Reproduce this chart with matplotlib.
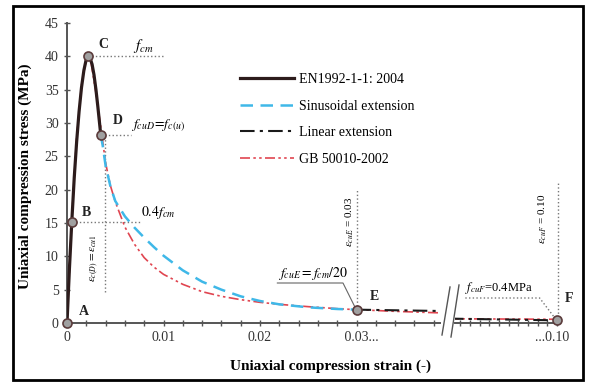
import numpy as np
import matplotlib
matplotlib.use('Agg')
import matplotlib.pyplot as plt
from matplotlib.lines import Line2D
from matplotlib.patches import Rectangle

plt.rcParams['font.family'] = ['Liberation Serif', 'DejaVu Serif']
plt.rcParams['mathtext.fontset'] = 'stix'

# EN1992-1-1: 2004 curve, A -> C -> D
en_strain = [0, 0.00025, 0.0005, 0.00075, 0.001, 0.00125, 0.0015, 0.00175, 0.002, 0.0022,
             0.0024, 0.0026, 0.0028, 0.003, 0.0032, 0.0035]
en_stress = [0, 8.1, 15.3, 21.8, 27.2, 31.7, 35.3, 37.9, 39.6, 40.0,
             39.7, 38.8, 37.2, 35.0, 32.4, 28.2]

# sinusoidal extension, D -> E
sin_strain = [0.0035, 0.0037, 0.004, 0.0045, 0.005, 0.006, 0.007, 0.008, 0.009, 0.010,
              0.012, 0.014, 0.016, 0.018, 0.020, 0.022, 0.025, 0.028, 0.030]
sin_stress = [28.2, 26.6, 23.6, 20.5, 18.3, 16.0, 14.3, 12.8, 11.4, 10.1,
              7.9, 6.2, 5.0, 4.0, 3.3, 2.8, 2.35, 2.1, 2.0]

# linear extension, E -> F
lin_strain = [0.030, 0.100]
lin_stress = [2.0, 0.4]

# GB 50010-2002
gb_strain = [0, 0.0005, 0.001, 0.0015, 0.002, 0.0022, 0.0025, 0.003, 0.0035, 0.004,
             0.0045, 0.005, 0.006, 0.007, 0.008, 0.009, 0.010, 0.012, 0.014, 0.016,
             0.018, 0.020, 0.022, 0.025, 0.028, 0.030, 0.034, 0.038, 0.042,
             0.088, 0.094, 0.100]
gb_stress = [0, 15.8, 27.8, 35.6, 39.6, 40.0, 39.0, 34.5, 29.4, 24.0,
             20.6, 18.2, 14.4, 11.8, 9.8, 8.4, 7.3, 5.8, 4.7, 4.0,
             3.5, 3.1, 2.8, 2.45, 2.15, 2.0, 1.75, 1.55, 1.4,
             0.64, 0.60, 0.56]

# key points
pt_names = ['A', 'B', 'C', 'D', 'E', 'F']
pt_strain = [0, 0.0005, 0.0022, 0.0035, 0.030, 0.100]
pt_stress = [0, 15.2, 40.0, 28.2, 2.0, 0.4]

W, H = 592, 385
fig = plt.figure(figsize=(W / 100, H / 100), dpi=100)
fig.patches.append(Rectangle((13 / W, 1 - 380 / H), 570 / W, 374 / H, transform=fig.transFigure,
                             fill=False, edgecolor='black', linewidth=2))

px_per = 9650.0
ax1 = fig.add_axes([67 / W, 62 / H, 373 / W, 300 / H])
ax2 = fig.add_axes([455 / W, 62 / H, 105 / W, 300 / H])
ax1.set_xlim(0, 373 / px_per)
ax2.set_xlim(0.10 - 102 / px_per, 0.10 + 3 / px_per)
for ax in (ax1, ax2):
    ax.set_ylim(0, 45)
    ax.patch.set_alpha(0)
    for s in ['top', 'right']:
        ax.spines[s].set_visible(False)
    for s in ['left', 'bottom']:
        ax.spines[s].set_color('#555555')
        ax.spines[s].set_linewidth(1.4)
    ax.tick_params(direction='inout', length=5, width=1, color='#555555',
                   labelsize=10, labelcolor='#333333')
ax2.spines['left'].set_visible(False)
ax2.set_yticks([])

ax1.set_yticks(np.arange(0, 46, 5))
xt1 = np.arange(0, 0.0385, 0.002)
ax1.set_xticks(xt1)
lab1 = []
for v in xt1:
    if abs(v) < 1e-9:
        lab1.append('0')
    elif abs(v - 0.01) < 1e-9:
        lab1.append('0.01')
    elif abs(v - 0.02) < 1e-9:
        lab1.append('0.02')
    elif abs(v - 0.03) < 1e-9:
        lab1.append('   0.03...')
    else:
        lab1.append('')
ax1.set_xticklabels(lab1)
xt2 = np.arange(0.090, 0.10005, 0.001)
ax2.set_xticks(xt2)
ax2.set_xticklabels(['' if abs(v - 0.10) > 1e-9 else '...0.10   ' for v in xt2])

# curves
styles = dict(
    gb=dict(color='#e04550', lw=1.2, dashes=(6, 2, 1.5, 2, 1.5, 2)),
    sin=dict(color='#3fb8e8', lw=1.8, dashes=(5, 3)),
    lin=dict(color='#1a1a1a', lw=1.5, dashes=(7, 2.5, 1.5, 2.5)),
    en=dict(color='#2d1c1c', lw=2.3),
)
handles = {}
for ax in (ax1, ax2):
    handles['gb'], = ax.plot(gb_strain, gb_stress, zorder=2, **styles['gb'])
    handles['lin'], = ax.plot(lin_strain, lin_stress, zorder=3, **styles['lin'])
handles['sin'], = ax1.plot(sin_strain, sin_stress, zorder=3, **styles['sin'])
handles['en'], = ax1.plot(en_strain, en_stress, zorder=4, **styles['en'])

mk = dict(marker='o', ms=6.5, mfc='#a0a0a0', mec='#5b3b3b', mew=1.2, ls='none',
          zorder=6, clip_on=False)
ax1.plot(pt_strain[:5], pt_stress[:5], **mk)
ax2.plot(pt_strain[5:], pt_stress[5:], **mk)

# point letters
lab_pos = [(0.0017, 1.7), (0.0020, 16.6), (0.0038, 41.7), (0.0053, 30.4), (0.0319, 4.0), (0.1012, 3.6)]
for name, (x, y) in zip(pt_names, lab_pos):
    a = ax2 if name == 'F' else ax1
    a.text(x, y, name, fontsize=10, fontweight='bold', color='#222222',
           ha='center', va='center', clip_on=False)

dot = dict(color='#777777', ls=':', lw=1)
# C
ax1.plot([0.0022, 0.0099], [40, 40], **dot)
ax1.text(0.0068, 40.2, r'$f_{cm}$', fontsize=11, ha='left', va='bottom')
# D
ax1.plot([0.0035, 0.0066], [28.2, 28.2], **dot)
ax1.text(0.0066, 28.3, r'$f_{cuD}\!=\!f_{c(u)}$', fontsize=10, ha='left', va='bottom')
ax1.plot([0.0039, 0.0039], [28.0, 4.5], **dot)
ax1.text(0.0029, 9.7, r'$\varepsilon_{c(D)}=\varepsilon_{cu1}$', fontsize=8, rotation=90,
         ha='center', va='center')
# B
ax1.plot([0.0005, 0.0076], [15.2, 15.2], **dot)
ax1.text(0.0077, 15.3, r'$0.4f_{cm}$', fontsize=10, ha='left', va='bottom')
# E
ax1.plot([0.0301, 0.0301], [2.5, 20], **dot)
ax1.text(0.0293, 15.2, r'$\varepsilon_{cuE}$ = 0.03', fontsize=8, rotation=90,
         ha='center', va='center')
ax1.plot([0.0218, 0.0286, 0.0298], [6.0, 6.0, 2.5], color='#666666', lw=0.8)
ax1.text(0.0219, 6.2, r'$f_{cuE}=f_{cm}/20$', fontsize=10, ha='left', va='bottom')
# F
ax2.plot([0.1001, 0.1001], [0.9, 21], clip_on=False, **dot)
ax2.text(0.0985, 15.7, r'$\varepsilon_{cuF}$ = 0.10', fontsize=8, rotation=90,
         ha='center', va='center')
ax2.plot([0.0905, 0.0982, 0.0997], [3.75, 3.75, 0.9], **dot)
ax2.text(0.0905, 4.1, r'$f_{cuF}$=0.4MPa', fontsize=9, ha='left', va='bottom')

# axis break marks
for (x0, y0, x1, y1) in [(442, 335, 450, 287), (451, 337, 459, 285)]:
    fig.lines.append(Line2D([x0 / W, x1 / W], [1 - y0 / H, 1 - y1 / H], transform=fig.transFigure,
                            color='#555555', lw=1))

fig.text(330 / W, 1 - 366 / H, 'Uniaxial compression strain (-)', fontsize=11,
         fontweight='bold', ha='center', va='center')
fig.text(25 / W, 1 - 176 / H, 'Uniaxial compression stress (MPa)', fontsize=11,
         fontweight='bold', ha='center', va='center', rotation=90)

fig.legend([handles['en'], handles['sin'], handles['lin'], handles['gb']],
           ['EN1992-1-1: 2004', 'Sinusoidal extension', 'Linear extension', 'GB 50010-2002'],
           loc='upper left', bbox_to_anchor=(233 / W, 1 - 66 / H), frameon=False,
           borderpad=0, handlelength=3.9, handletextpad=0.35, labelspacing=0.98, fontsize=10)

fig.savefig('out.png', dpi=100)
